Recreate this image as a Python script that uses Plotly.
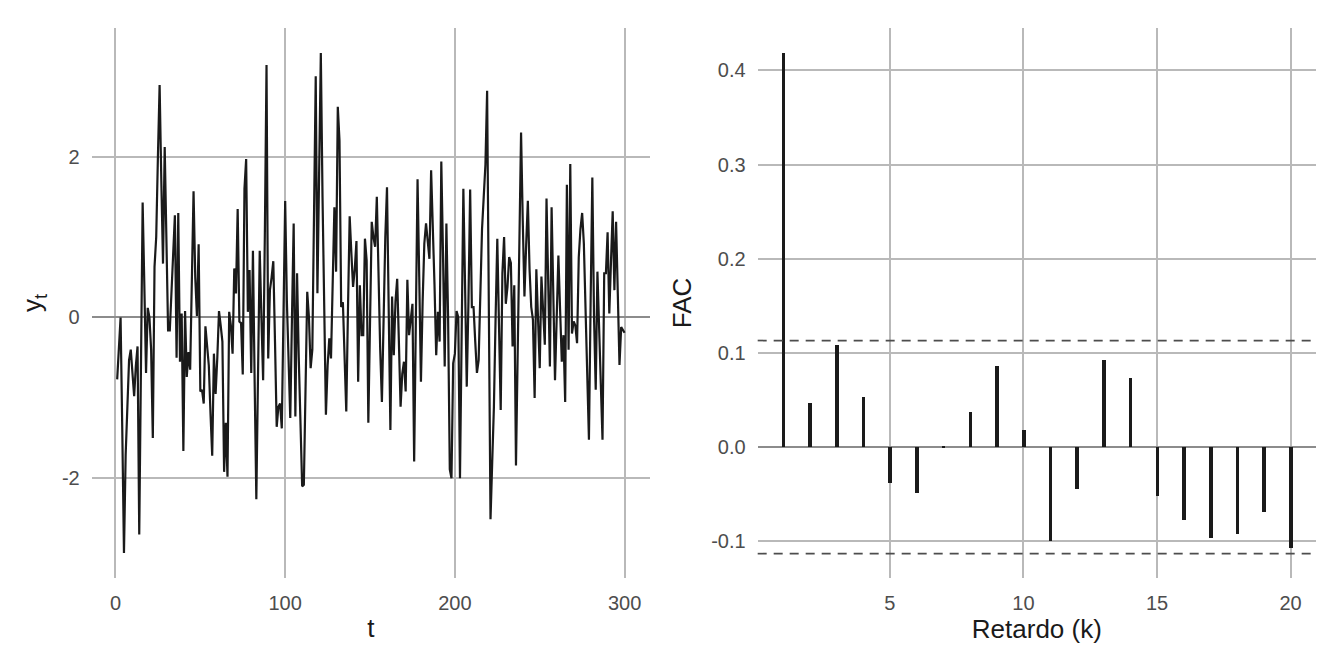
import plotly.graph_objects as go

# serie simulada y_t, t = 1..300
y_values = [
    -0.77, -0.40, 0.00, -1.40, -2.93, -1.70, -1.00, -0.53, -0.40, -0.70,
    -0.98, -0.60, -0.36, -2.70, -0.60, 1.43, 0.40, -0.69, 0.12, 0.00,
    -0.40, -1.50, 0.63, 1.00, 2.00, 2.89, 1.70, 0.67, 2.12, 0.90,
    -0.16, -0.16, 0.30, 0.80, 1.27, -0.50, 1.30, -0.55, 0.05, -1.66,
    0.08, -0.74, -0.43, -0.65, 0.40, 1.57, 0.50, 0.02, 0.91, -0.92,
    -0.90, -1.07, -0.11, -0.35, -0.60, -1.20, -1.72, -0.45, -0.95, -0.50,
    0.08, -0.10, -0.30, -1.92, -1.31, -1.98, 0.07, -0.10, -0.45, 0.61,
    0.30, 1.35, -0.05, -0.07, -0.71, 1.60, 1.97, 0.07, 0.59, -0.69,
    0.83, -0.80, -2.26, -0.70, 0.83, 0.00, -0.78, 1.00, 3.14, -0.51,
    0.34, 0.50, 0.70, -0.30, -1.36, -1.11, -1.07, -1.38, 0.00, 1.45,
    0.20, -0.50, -1.25, 0.00, 1.17, -1.23, 0.55, -0.50, -1.40, -2.10,
    -2.08, -0.90, 0.32, 0.00, -0.63, -0.40, 1.30, 3.00, 0.30, 1.80,
    3.29, 1.50, 0.20, -1.21, -0.60, -0.26, -0.51, 0.40, 1.37, 0.57,
    2.62, 2.20, 0.13, 0.19, -0.50, -1.17, 0.10, 1.26, 0.80, 0.38,
    0.60, 0.95, -0.80, 0.40, -0.22, -0.22, 0.98, 0.71, -1.31, 0.00,
    1.19, 1.00, 0.88, 1.50, 0.30, -0.40, -1.05, 0.20, 1.00, 1.62,
    0.10, -1.40, 0.26, -0.47, 0.20, 0.48, -0.30, -1.11, -0.70, -0.55,
    -0.92, 0.47, -0.22, 0.00, 0.17, -1.79, 0.00, 1.72, 0.50, -0.80,
    0.20, 0.92, 1.17, 0.90, 0.73, 1.83, 1.20, 0.40, -0.47, 0.07,
    -0.30, 1.94, 0.80, -0.61, 1.17, 0.00, -1.89, -2.00, -0.57, -0.45,
    0.08, 0.00, -2.00, -0.30, 1.60, 0.40, -0.86, 0.20, 1.59, 0.13,
    0.13, -0.30, -0.69, -0.53, 0.40, 1.10, 1.50, 1.90, 2.82, 0.20,
    -2.51, -1.80, -1.11, 0.00, 0.98, -0.10, -1.15, 0.55, 1.00, 0.17,
    0.38, 0.75, 0.68, -0.36, 0.40, -1.84, -0.50, 1.00, 2.30, 1.20,
    0.26, 0.90, 1.45, 0.60, 0.13, -0.03, -1.00, 0.60, 0.00, -0.63,
    0.51, 0.10, -0.34, 1.48, 0.40, -0.61, 1.37, 0.30, -0.78, 0.00,
    0.77, 0.10, -0.55, -0.22, -1.05, 1.65, -0.40, 1.91, -0.20, -0.05,
    -0.10, -0.32, 0.75, 1.10, 1.30, 0.92, 0.20, -0.74, -1.52, 0.20,
    1.74, 0.00, -0.90, 0.57, -0.12, -0.80, -1.52, 0.55, 0.55, 1.06,
    0.05, 0.70, 1.32, 0.34, 1.19, 0.30, -0.59, -0.12, -0.15, -0.19,
]
t_values = list(range(1, len(y_values) + 1))

# funcion de autocorrelacion muestral
lags = list(range(1, 21))
acf_values = [
    0.418, 0.047, 0.108, 0.053, -0.038, -0.049, 0.001, 0.037, 0.086, 0.018,
    -0.100, -0.045, 0.092, 0.073, -0.052, -0.077, -0.097, -0.092, -0.069, -0.107,
]
conf_band = 1.96 / len(y_values) ** 0.5

left_ticks = [-2, 0, 2]
left_ticktext = ["-2", "0", "2"]
right_ticks = [-0.1, 0.0, 0.1, 0.2, 0.3, 0.4]
right_ticktext = ["-0.1", "0.0", "0.1", "0.2", "0.3", "0.4"]

FONT = "Liberation Sans, Arial, sans-serif"
GRID = "#B9B9B9"
TICK_FONT = dict(family=FONT, size=20, color="#4D4D4D")
TITLE_FONT = dict(family=FONT, size=26, color="#1A1A1A")


def build_figure():
    fig = go.Figure()

    fig.add_trace(go.Scatter(
        x=t_values, y=y_values, mode="lines",
        line=dict(color="#1A1A1A", width=2.2),
        xaxis="x", yaxis="y", showlegend=False,
    ))

    fig.add_trace(go.Bar(
        x=lags, y=acf_values, width=0.13,
        marker=dict(color="#1A1A1A", line=dict(width=0)),
        xaxis="x2", yaxis="y2", showlegend=False,
    ))

    # bandas de confianza
    for level in (conf_band, -conf_band):
        fig.add_shape(
            type="line", xref="x2 domain", yref="y2",
            x0=0, x1=1, y0=level, y1=level,
            line=dict(color="#4D4D4D", width=1.7, dash="9px,7px"),
        )

    axis_common = dict(
        showgrid=True, gridcolor=GRID, gridwidth=1.5,
        showline=False, zeroline=False,
        ticks="outside", ticklen=7, tickcolor="rgba(0,0,0,0)",
        tickfont=TICK_FONT, automargin=False,
    )

    # el body de la pagina tiene 8px de margen: dominios corregidos
    fig.update_layout(
        width=1344, height=672,
        margin=dict(l=0, r=0, t=0, b=0),
        paper_bgcolor="white", plot_bgcolor="white",
        bargap=0,
        xaxis=dict(
            axis_common, domain=[0.0623, 0.4777], range=[-14, 315],
            tickvals=[0, 100, 200, 300], anchor="y",
            title=dict(text="t", font=TITLE_FONT, standoff=5),
        ),
        yaxis=dict(
            axis_common, domain=[0.1518, 0.9702], range=[-3.24, 3.6],
            tickvals=left_ticks, ticktext=left_ticktext, anchor="x",
            zeroline=True, zerolinecolor="#8C8C8C", zerolinewidth=1.7,
            title=dict(text="y<sub>t</sub>", font=TITLE_FONT, standoff=12),
        ),
        xaxis2=dict(
            axis_common, domain=[0.5578, 0.9732], range=[0.05, 20.95],
            tickvals=[5, 10, 15, 20], anchor="y2",
            title=dict(text="Retardo (k)", font=TITLE_FONT, standoff=5),
        ),
        yaxis2=dict(
            axis_common, domain=[0.1518, 0.9702], range=[-0.139, 0.445],
            tickvals=right_ticks, ticktext=right_ticktext, anchor="x2",
            zeroline=True, zerolinecolor="#8C8C8C", zerolinewidth=1.7,
            title=dict(text="FAC", font=TITLE_FONT, standoff=12),
        ),
    )
    return fig


def main():
    fig = build_figure()
    fig.write_html("out.html")


if __name__ == "__main__":
    main()
